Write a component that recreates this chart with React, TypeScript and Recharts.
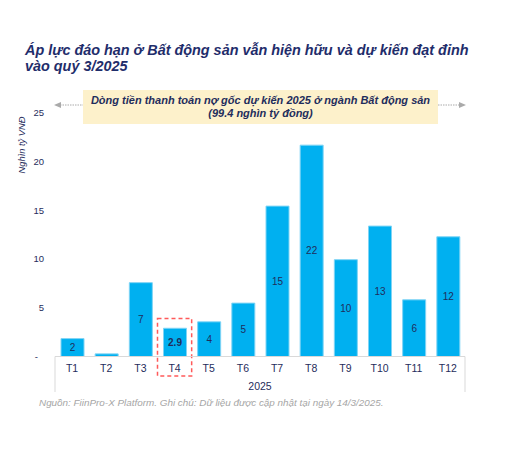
import { Bar, BarChart, LabelList, ReferenceArea, XAxis, YAxis } from 'recharts';

const months = ['T1', 'T2', 'T3', 'T4', 'T5', 'T6', 'T7', 'T8', 'T9', 'T10', 'T11', 'T12'];
const values = [1.84, 0.27, 7.58, 2.9, 3.56, 5.48, 15.44, 21.7, 9.94, 13.39, 5.82, 12.29];
const barLabels = ['2', '', '7', '2.9', '4', '5', '15', '22', '10', '13', '6', '12'];
const yTicks = [0, 5, 10, 15, 20, 25];
const highlightMonth = 'T4';
const year = '2025';

const data = months.map((m, i) => ({ month: m, value: values[i], label: barLabels[i] }));

const FONT = '"Liberation Sans", Arial, sans-serif';
const NAVY = '#1f2d5c';
const W = 514;
const H = 452;
const MARGIN = { top: 113, right: 49, left: 15, bottom: 55.5 };
const Y_AXIS_W = 40;
const X_AXIS_H = 40;
const BAND = (W - MARGIN.left - Y_AXIS_W - MARGIN.right) / months.length;

const XTick = ({ x, y, payload, index }: any) => {
    const top = y - 8;
    return (
        <g>
            <text x={x} y={y} dy="0.71em" textAnchor="middle" fill={NAVY} fontSize={10.5} fontFamily={FONT}>
                {payload.value}
            </text>
            {index === 0 && <line x1={x - BAND / 2} x2={x - BAND / 2} y1={top} y2={top + 35.5} stroke="#d9d9d9" />}
            {index === months.length - 1 && (
                <line x1={x + BAND / 2} x2={x + BAND / 2} y1={top} y2={top + 35.5} stroke="#d9d9d9" />
            )}
        </g>
    );
};

const YTick = ({ x, y, payload }: any) => (
    <text
        x={payload.value === 0 ? x - 6 : x}
        y={y}
        dy="0.35em"
        textAnchor="end"
        fill={NAVY}
        fontSize={9.5}
        fontFamily={FONT}
    >
        {payload.value === 0 ? '-' : payload.value}
    </text>
);

const BarValue = ({ x, y, width, height, value, index }: any) => (
    <text
        x={x + width / 2}
        y={y + height / 2}
        dy="0.35em"
        textAnchor="middle"
        fill={NAVY}
        fontSize={10}
        fontFamily={FONT}
        fontWeight={months[index] === highlightMonth ? 'bold' : 'normal'}
    >
        {value}
    </text>
);

const YLabel = () => (
    <text
        x={0}
        y={0}
        transform="translate(25 145) rotate(-90)"
        textAnchor="middle"
        fill={NAVY}
        fontSize={9.3}
        fontStyle="italic"
        fontFamily={FONT}
    >
        Nghìn tỷ VNĐ
    </text>
);

const App = () => {
    return (
        <div style={{ position: 'absolute', left: 0, top: 0, width: W, height: H, background: '#fff', fontFamily: FONT }}>
            <div
                style={{
                    position: 'absolute',
                    left: 25,
                    top: 42,
                    fontSize: 14.4,
                    lineHeight: '16px',
                    fontWeight: 'bold',
                    fontStyle: 'italic',
                    color: '#1f2d6b',
                    whiteSpace: 'nowrap',
                }}
            >
                Áp lực đáo hạn ở Bất động sản vẫn hiện hữu và dự kiến đạt đỉnh
                <br />
                vào quý 3/2025
            </div>

            <BarChart width={W} height={H} data={data} margin={MARGIN} barSize={23}>
                <XAxis
                    dataKey="month"
                    height={X_AXIS_H}
                    axisLine={{ stroke: '#d9d9d9' }}
                    tickLine={false}
                    tick={<XTick />}
                    interval={0}
                    label={{ value: year, position: 'insideBottom', offset: 7, fill: NAVY, fontSize: 10.5, fontFamily: FONT }}
                />
                <YAxis
                    width={Y_AXIS_W}
                    domain={[0, 25]}
                    ticks={yTicks}
                    axisLine={false}
                    tickLine={false}
                    tickMargin={5}
                    tick={<YTick />}
                    label={<YLabel />}
                />
                <Bar dataKey="value" fill="#00b0f0" stroke="#7fd4f5" strokeWidth={1} isAnimationActive={false}>
                    <LabelList dataKey="label" content={<BarValue />} />
                </Bar>
                <ReferenceArea
                    x1={highlightMonth}
                    x2={highlightMonth}
                    y1={-2}
                    y2={3.9}
                    fill="none"
                    stroke="#ff5a5a"
                    strokeWidth={1.5}
                    strokeDasharray="4 3"
                    ifOverflow="visible"
                />
            </BarChart>

            <svg style={{ position: 'absolute', left: 0, top: 0 }} width={W} height={H} pointerEvents="none">
                <line x1={60} x2={83} y1={105} y2={105} stroke="#aaaaaa" strokeDasharray="1.5 1" />
                <polygon points="54,105 61,102 61,108" fill="#aaaaaa" />
                <line x1={438} x2={460} y1={105} y2={105} stroke="#aaaaaa" strokeDasharray="1.5 1" />
                <polygon points="466,105 459,102 459,108" fill="#aaaaaa" />
            </svg>

            <div
                style={{
                    position: 'absolute',
                    left: 83,
                    top: 90,
                    width: 355,
                    height: 34,
                    background: '#fdf1cb',
                    color: NAVY,
                    fontSize: 11,
                    lineHeight: '13px',
                    fontWeight: 'bold',
                    fontStyle: 'italic',
                    textAlign: 'center',
                    paddingTop: 4,
                    boxSizing: 'border-box',
                }}
            >
                Dòng tiền thanh toán nợ gốc dự kiến 2025 ở ngành Bất động sản
                <br />
                (99.4 nghìn tỷ đồng)
            </div>

            <div
                style={{
                    position: 'absolute',
                    left: 39,
                    top: 397,
                    fontSize: 9.9,
                    fontStyle: 'italic',
                    color: '#a6a6a6',
                    whiteSpace: 'nowrap',
                }}
            >
                Nguồn: FiinPro-X Platform. Ghi chú: Dữ liệu được cập nhật tại ngày 14/3/2025.
            </div>
        </div>
    );
};

export default App;
